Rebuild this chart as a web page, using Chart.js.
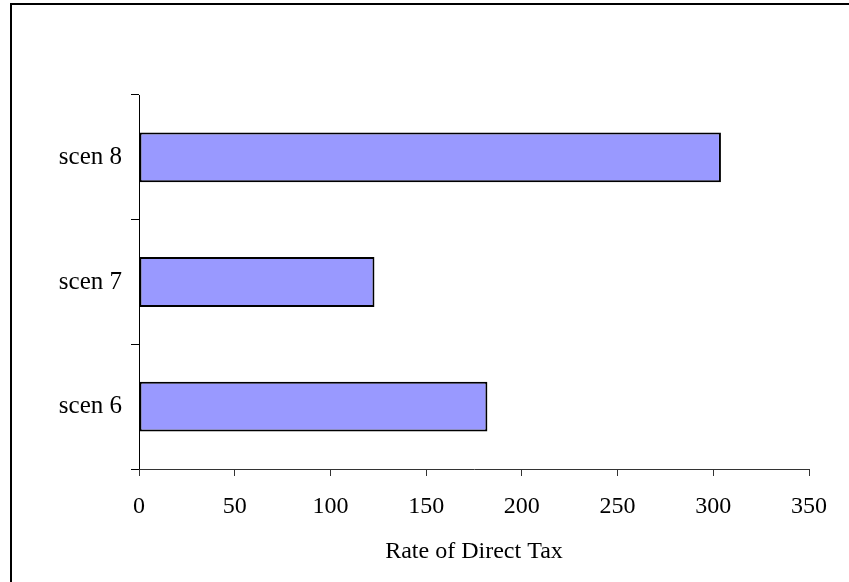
<!DOCTYPE html>
<html>
<head>
<meta charset="utf-8">
<script src="https://cdn.jsdelivr.net/npm/chart.js@4/dist/chart.umd.min.js"></script>
<style>
  body { margin: 0; background: #fff; }
  #wrap { position: relative; width: 849px; height: 582px; overflow: hidden; }
  #frame { position: absolute; left: 10px; top: 3px; width: 900px; height: 700px;
           border-top: 2px solid #000; border-left: 2px solid #000; }
  canvas { position: absolute; left: 0; top: 0; }
</style>
</head>
<body>
<div id="wrap">
  <div id="frame"></div>
  <canvas id="chart" width="849" height="582"></canvas>
</div>
<script>
// data
var scenarios = ['scen 6', 'scen 7', 'scen 8'];
var directTax = [182, 123, 304];
var xTicks = [0, 50, 100, 150, 200, 250, 300, 350];

var serif = "'Liberation Serif', 'Times New Roman', serif";

var ctx = document.getElementById('chart').getContext('2d');
var chart = new Chart(ctx, {
  type: 'bar',
  data: {
    labels: scenarios,
    datasets: [{
      label: 'Rate of Direct Tax',
      data: directTax,
      backgroundColor: '#9999FF',
      borderColor: '#000000',
      borderWidth: 2,
      borderSkipped: false,
      barPercentage: 0.4,
      categoryPercentage: 1.0
    }]
  },
  options: {
    indexAxis: 'y',
    responsive: false,
    animation: false,
    layout: { padding: { top: 95, right: 40, left: 0, bottom: 0 } },
    plugins: {
      legend: { display: false },
      tooltip: { enabled: false }
    },
    scales: {
      y: {
        reverse: true,
        offset: true,
        grid: { display: true, drawOnChartArea: false, offset: true, tickLength: 8, color: '#000' },
        border: { display: true, color: '#000', width: 1 },
        ticks: { color: '#000', padding: 9, font: { family: serif, size: 25 } },
        afterFit: function(scale) { scale.width = 139; }
      },
      x: {
        min: 0,
        max: 350,
        afterBuildTicks: function(scale) {
          scale.ticks = xTicks.map(function(v) { return { value: v }; });
        },
        grid: { display: true, drawOnChartArea: false, tickLength: 7, color: '#333' },
        border: { display: true, color: '#333', width: 1 },
        ticks: { color: '#000', padding: 16, maxRotation: 0, font: { family: serif, size: 24 } },
        title: {
          display: true,
          text: 'Rate of Direct Tax',
          color: '#000',
          padding: 16,
          font: { family: serif, size: 24 }
        },
        afterFit: function(scale) { scale.height = 113; }
      }
    }
  }
});
</script>
</body>
</html>
